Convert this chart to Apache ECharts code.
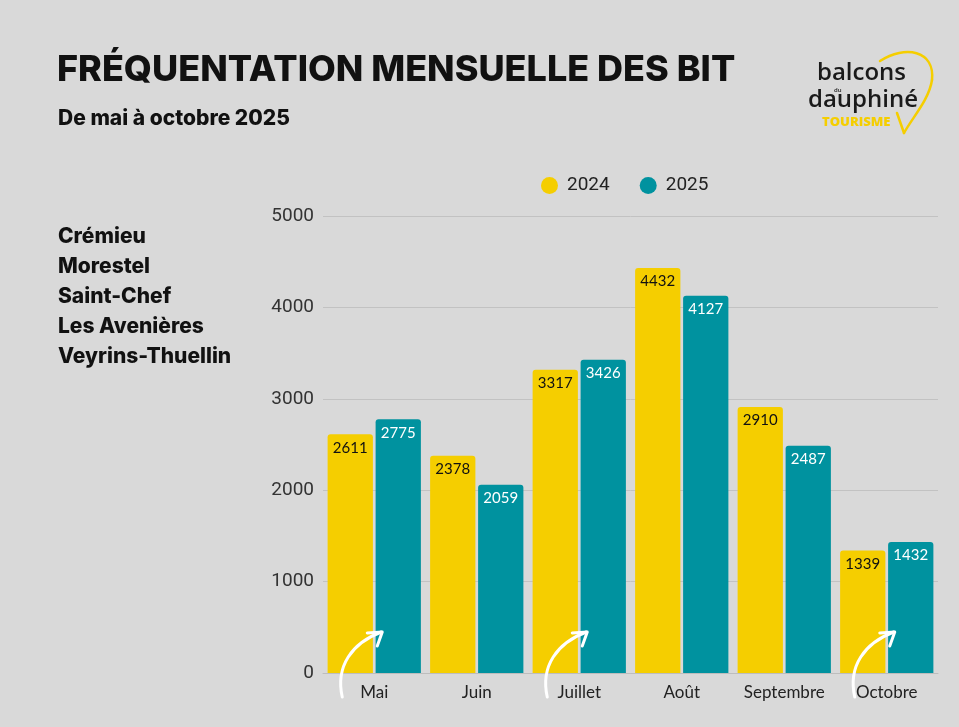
<!DOCTYPE html>
<html><head><meta charset="utf-8">
<script src="https://cdn.jsdelivr.net/npm/echarts@6/dist/echarts.min.js"></script>
<style>html,body{margin:0;padding:0;background:#d9d9d9;}#c{width:959px;height:727px;}</style>
</head><body><div id="c"></div>
<script>
const months = ['Mai','Juin','Juillet','Août','Septembre','Octobre'];
const values2024 = [2611, 2378, 3317, 4432, 2910, 1339];
const values2025 = [2775, 2059, 3426, 4127, 2487, 1432];
const yTicks = [0, 1000, 2000, 3000, 4000, 5000];
const sites = ['Crémieu','Morestel','Saint-Chef','Les Avenières','Veyrins-Thuellin'];
const arrowMonths = ['Mai','Juillet','Octobre'];

const YEL = '#f5ce00', TEAL = '#00929f';
const chart = echarts.init(document.getElementById('c'));
const headFont = 'Inter, "Open Sans", sans-serif';

const siteTexts = sites.map((s, i) => ({
  type: 'text', x: 58, y: 237 + i * 30,
  style: { text: s, font: '800 21px ' + headFont, fill: '#111', textVerticalAlign: 'middle' }
}));

chart.setOption({
  backgroundColor: '#d9d9d9',
  animation: false,
  title: [{
    text: 'FRÉQUENTATION MENSUELLE DES BIT', left: 52, top: 47,
    textStyle: { fontFamily: headFont, fontWeight: 800, fontSize: 36, color: '#111' }
  }, {
    text: 'De mai à octobre 2025', left: 53, top: 103,
    textStyle: { fontFamily: headFont, fontWeight: 800, fontSize: 21, color: '#111' }
  }],
  legend: {
    left: 541, top: 176, icon: 'circle', itemWidth: 25, itemHeight: 17, itemGap: 30, padding: 0,
    textStyle: { fontFamily: 'Roboto, sans-serif', fontSize: 19, color: '#222' },
    data: ['2024', '2025']
  },
  grid: { left: 323, right: 21, top: 216, bottom: 54 },
  xAxis: {
    type: 'category', data: months,
    axisLine: { lineStyle: { color: '#bdbdbd' } }, axisTick: { show: false },
    axisLabel: { interval: 0, fontFamily: 'Lato, Inter, sans-serif', fontSize: 17, color: '#222', margin: 11 }
  },
  yAxis: {
    type: 'value', min: yTicks[0], max: yTicks[yTicks.length - 1], interval: 1000,
    axisLabel: { fontFamily: 'Roboto, sans-serif', fontSize: 19, color: '#333', margin: 9, formatter: v => String(v) },
    splitLine: { lineStyle: { color: '#c2c2c2' } }, axisLine: { show: false }
  },
  series: [{
    name: '2024', type: 'bar', data: values2024, barGap: '6%', barCategoryGap: '9%',
    itemStyle: { color: YEL, borderRadius: [3, 3, 0, 0] },
    label: { show: true, position: 'insideTop', distance: 6, fontFamily: 'Lato, Inter, sans-serif', fontSize: 15, color: '#111' }
  }, {
    name: '2025', type: 'bar', data: values2025,
    itemStyle: { color: TEAL, borderRadius: [3, 3, 0, 0] },
    label: { show: true, position: 'insideTop', distance: 6, fontFamily: 'Lato, Inter, sans-serif', fontSize: 15, color: '#fff' }
  }]
});

const arrows = [];
arrowMonths.forEach(m => {
  const dx = chart.convertToPixel({ xAxisIndex: 0 }, m) - 374;
  arrows.push({
    type: 'bezierCurve', silent: true, z: 100,
    shape: { x1: 342 + dx, y1: 697, cpx1: 335 + dx, cpy1: 666, cpx2: 352 + dx, cpy2: 643, x2: 381 + dx, y2: 632 },
    style: { stroke: '#fff', lineWidth: 3, fill: null, lineCap: 'round' }
  });
  arrows.push({
    type: 'polyline', silent: true, z: 100,
    shape: { points: [[367 + dx, 633], [382 + dx, 632], [377 + dx, 646]] },
    style: { stroke: '#fff', lineWidth: 3, fill: null, lineCap: 'round', lineJoin: 'round' }
  });
});

const logo = [{
  type: 'bezierCurve', silent: true,
  shape: { x1: 880, y1: 61, cpx1: 905, cpy1: 45, cpx2: 935, cpy2: 50, x2: 932, y2: 80 },
  style: { stroke: YEL, lineWidth: 2.5, fill: null, lineCap: 'round' }
}, {
  type: 'bezierCurve', silent: true,
  shape: { x1: 932, y1: 80, cpx1: 929, cpy1: 100, cpx2: 912, cpy2: 118, x2: 904, y2: 133 },
  style: { stroke: YEL, lineWidth: 2.5, fill: null, lineCap: 'round' }
}, {
  type: 'line', silent: true,
  shape: { x1: 904, y1: 133, x2: 897, y2: 113 },
  style: { stroke: YEL, lineWidth: 2.5, lineCap: 'round' }
}, {
  type: 'text', x: 817, y: 61,
  style: { text: 'balcons', font: '600 24px "Open Sans", sans-serif', fill: '#1a1a1a' }
}, {
  type: 'text', x: 834, y: 87,
  style: { text: 'du', font: '600 6px "Open Sans", sans-serif', fill: '#1a1a1a' }
}, {
  type: 'text', x: 808, y: 88,
  style: { text: 'dauphiné', font: '600 24px "Open Sans", sans-serif', fill: '#1a1a1a' }
}, {
  type: 'text', x: 822, y: 116,
  style: { text: 'TOURISME', font: '800 13px "Open Sans", sans-serif', fill: YEL }
}];

chart.setOption({ graphic: { elements: siteTexts.concat(arrows, logo) } });
</script>
</body></html>
